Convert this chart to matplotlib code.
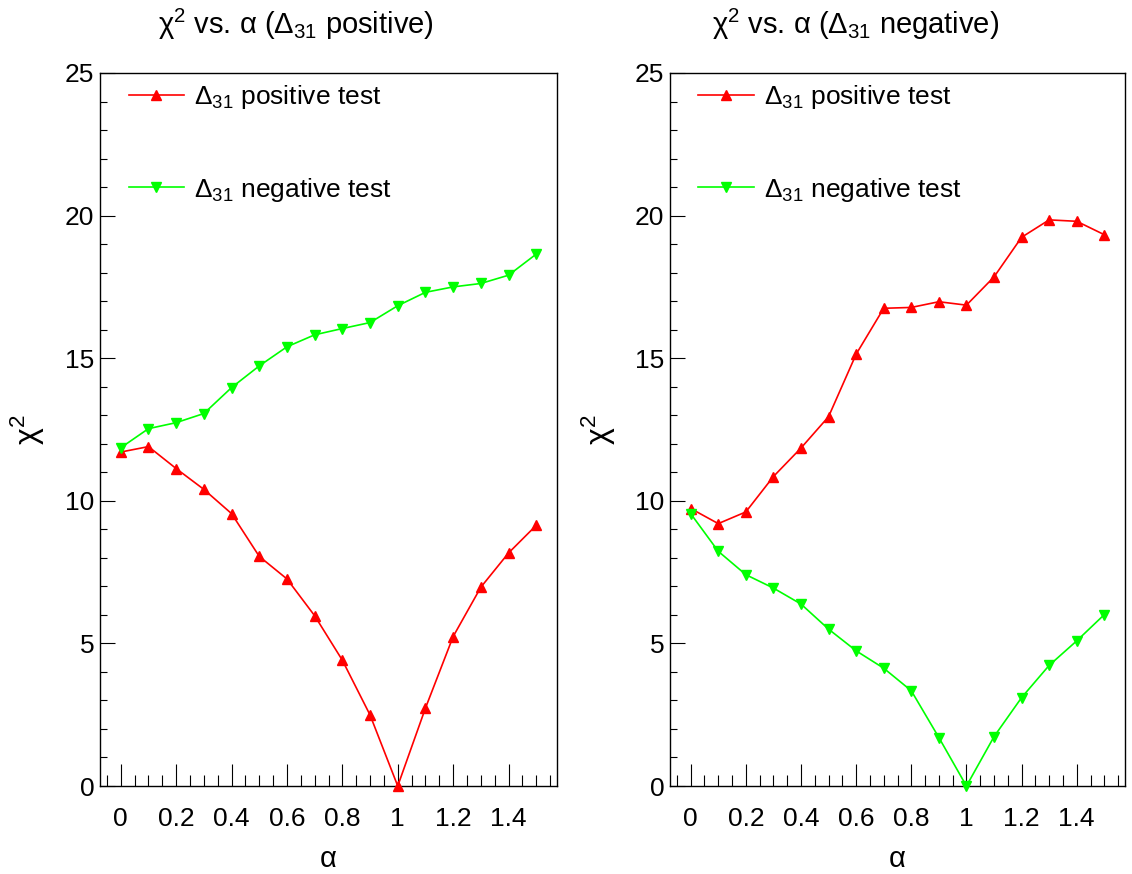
import matplotlib
matplotlib.use("Agg")
import matplotlib.pyplot as plt
from matplotlib.ticker import MultipleLocator, FuncFormatter

plt.rcParams['font.family'] = ['Liberation Sans', 'DejaVu Sans']
plt.rcParams['mathtext.fontset'] = 'custom'
plt.rcParams['mathtext.rm'] = 'Liberation Sans'
plt.rcParams['mathtext.it'] = 'Liberation Sans:italic'
plt.rcParams['mathtext.bf'] = 'Liberation Sans:bold'

# alpha values (same for all curves)
alpha = [0.0, 0.1, 0.2, 0.3, 0.4, 0.5, 0.6, 0.7, 0.8, 0.9, 1.0, 1.1, 1.2, 1.3, 1.4, 1.5]

# left panel: true Delta31 positive
posTrue_posTest = [11.71, 11.90, 11.13, 10.40, 9.55, 8.05, 7.26, 5.97, 4.41, 2.49,
                   0.0, 2.73, 5.24, 6.97, 8.17, 9.14]
posTrue_negTest = [11.86, 12.53, 12.74, 13.06, 13.97, 14.73, 15.40, 15.82, 16.04, 16.25,
                   16.84, 17.31, 17.50, 17.62, 17.91, 18.65]

# right panel: true Delta31 negative
negTrue_posTest = [9.73, 9.20, 9.61, 10.85, 11.85, 12.95, 15.14, 16.75, 16.78, 16.98,
                   16.86, 17.85, 19.24, 19.85, 19.80, 19.33]
negTrue_negTest = [9.55, 8.23, 7.41, 6.94, 6.38, 5.50, 4.74, 4.13, 3.34, 1.70,
                   0.0, 1.73, 3.10, 4.23, 5.09, 6.01]

titles = ["χ$^2$ vs. α (Δ$_{31}$ positive)", "χ$^2$ vs. α (Δ$_{31}$ negative)"]
posLabel = "Δ$_{31}$ positive test"
negLabel = "Δ$_{31}$ negative test"

W, H = 1132, 874
fig = plt.figure(figsize=(W / 100, H / 100), dpi=100)

# axes boxes in pixels: (left, right, top, bottom), and title centre x
boxes = [(100, 557, 73, 786, 296), (670, 1125, 73, 786, 856)]
panels = [(posTrue_posTest, posTrue_negTest), (negTrue_posTest, negTrue_negTest)]

fs = 19
for (l, r, t, b, tx), (redVals, greenVals), title in zip(boxes, panels, titles):
    ax = fig.add_axes([l / W, (H - b) / H, (r - l) / W, (b - t) / H])
    ax.plot(alpha, redVals, color='#ff0000', lw=1.2, marker='^', ms=7.5,
            label=posLabel, clip_on=False, zorder=3)
    ax.plot(alpha, greenVals, color='#00ff00', lw=1.2, marker='v', ms=7.5,
            label=negLabel, clip_on=False, zorder=3)

    ax.set_xlim(-0.075, 1.575)
    ax.set_ylim(0, 25)

    ax.xaxis.set_major_locator(MultipleLocator(0.2))
    ax.xaxis.set_minor_locator(MultipleLocator(0.05))
    ax.yaxis.set_major_locator(MultipleLocator(5))
    ax.yaxis.set_minor_locator(MultipleLocator(1))
    ax.xaxis.set_major_formatter(FuncFormatter(lambda v, p: f"{round(v, 2):g}"))
    ax.tick_params(axis='x', which='major', direction='in', length=15.6, width=0.8,
                   labelsize=fs, pad=15)
    ax.tick_params(axis='x', which='minor', direction='in', length=7.8, width=0.8)
    ax.tick_params(axis='y', which='major', direction='in', length=10.8, width=0.8,
                   labelsize=fs, pad=4)
    ax.tick_params(axis='y', which='minor', direction='in', length=5, width=0.8)

    for s in ax.spines.values():
        s.set_linewidth(1.0)

    ax.set_title(title, fontsize=21, pad=28, x=(tx - l) / (r - l))
    ax.set_xlabel("α", fontsize=21)
    ax.set_ylabel("χ$^2$", fontsize=23)
    ax.xaxis.set_label_coords(0.5, -0.083)
    ax.yaxis.set_label_coords(-0.115, 0.5)

    ax.legend(loc='upper left', bbox_to_anchor=(0.022, 1.012), frameon=False,
              fontsize=fs, handlelength=2.1, handletextpad=0.4, labelspacing=2.45,
              borderaxespad=0.3)

fig.savefig("out.png", dpi=100)
